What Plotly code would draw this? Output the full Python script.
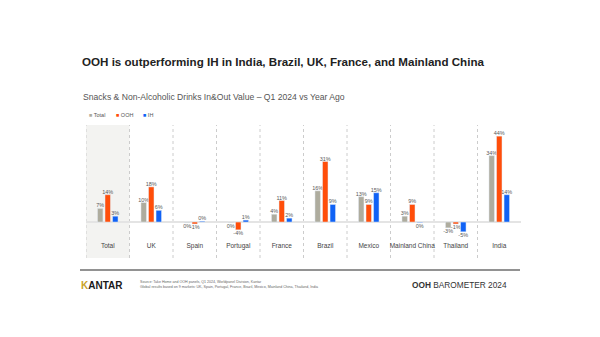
import plotly.graph_objects as go

W, H = 600, 337
categories = ["Total", "UK", "Spain", "Portugal", "France", "Brazil", "Mexico", "Mainland China", "Thailand", "India"]
total_vals = [7, 10, -0.3, -0.3, 4, 16, 13, 3, -3, 34]
ooh_vals = [14, 18, -1, -4, 11, 31, 9, 9, -1, 44]
ih_vals = [3, 6, 0.4, 1, 2, 9, 15, -0.3, -5, 14]
series_names = ["Total", "OOH", "IH"]
colors = ["#aeac9e", "#ff4e0a", "#1062f5"]

def px_x(p):
    return p / W

def px_y(p):
    return 1 - p / H

fig = go.Figure()
for name, vals, col in zip(series_names, [total_vals, ooh_vals, ih_vals], colors):
    fig.add_trace(go.Bar(
        x=categories, y=vals, name=name, marker_color=col,
        text=[f"{int(round(v))}%" for v in vals],
        textposition="outside", cliponaxis=False, constraintext="none",
        textfont=dict(size=5.5, color="#595959", family="Liberation Sans"),
        showlegend=False,
    ))

shapes = []
shapes.append(dict(type="rect", xref="x", yref="paper", x0=-0.5, x1=0.5,
                   y0=px_y(258), y1=px_y(125), fillcolor="#f3f3f1", line_width=0, layer="below"))
for i in range(len(categories)):
    shapes.append(dict(type="line", xref="x", yref="paper", x0=i - 0.5, x1=i - 0.5,
                       y0=px_y(258), y1=px_y(125), line=dict(color="#cccccc", width=1, dash="dot"), layer="below"))
shapes.append(dict(type="line", xref="paper", yref="paper", x0=px_x(80), x1=px_x(520),
                   y0=px_y(270), y1=px_y(270), line=dict(color="#6e6e6e", width=1.5)))

ann = []
ann.append(dict(text="<b>OOH is outperforming IH in India, Brazil, UK, France, and Mainland China</b>",
                x=px_x(80), y=px_y(61), xref="paper", yref="paper", xanchor="left", yanchor="middle",
                showarrow=False, font=dict(size=11.6, color="#222222", family="Liberation Sans")))
ann.append(dict(text="Snacks & Non-Alcoholic Drinks In&Out Value – Q1 2024 vs Year Ago",
                x=px_x(81), y=px_y(97), xref="paper", yref="paper", xanchor="left", yanchor="middle",
                showarrow=False, font=dict(size=8.6, color="#555555", family="Liberation Sans")))
legend_x = [87, 114, 141]
for name, col, lx in zip(series_names, colors, legend_x):
    ann.append(dict(text=f"<span style='color:{col}'>■</span> {name}",
                    x=px_x(lx), y=px_y(115), xref="paper", yref="paper", xanchor="left", yanchor="middle",
                    showarrow=False, font=dict(size=5.5, color="#555555", family="Liberation Sans")))
ann.append(dict(text="<b><span style='color:#c9a227'>K</span>ANTAR</b>",
                x=px_x(79), y=px_y(285), xref="paper", yref="paper", xanchor="left", yanchor="middle",
                showarrow=False, font=dict(size=10, color="#1a1a1a", family="Liberation Sans")))
ann.append(dict(text="Source: Take Home and OOH panels, Q1 2024, Worldpanel Division, Kantar<br>Global results based on 9 markets: UK, Spain, Portugal, France, Brazil, Mexico, Mainland China, Thailand, India",
                x=px_x(138), y=px_y(284), xref="paper", yref="paper", xanchor="left", yanchor="middle", align="left",
                showarrow=False, font=dict(size=3.6, color="#666666", family="Liberation Sans")))
ann.append(dict(text="<b>OOH</b> BAROMETER 2024",
                x=px_x(410), y=px_y(285), xref="paper", yref="paper", xanchor="left", yanchor="middle",
                showarrow=False, font=dict(size=8.3, color="#333333", family="Liberation Sans")))

fig.update_layout(
    width=W, height=H, margin=dict(l=0, r=0, t=0, b=0),
    paper_bgcolor="white", plot_bgcolor="rgba(0,0,0,0)",
    barmode="group", bargap=0.48, bargroupgap=0.27,
    xaxis=dict(domain=[px_x(86), px_x(521)], showgrid=False, showline=False, ticks="",
               tickfont=dict(size=6.5, color="#444444", family="Liberation Sans"),
               range=[-0.5, len(categories) - 0.5], fixedrange=True),
    yaxis=dict(domain=[px_y(240), px_y(125)], range=[-9.2, 49.7], showgrid=False,
               showticklabels=False, zeroline=True, zerolinecolor="#e4e4e4", zerolinewidth=1.5),
    shapes=shapes, annotations=ann,
)
fig.write_html("out.html")
